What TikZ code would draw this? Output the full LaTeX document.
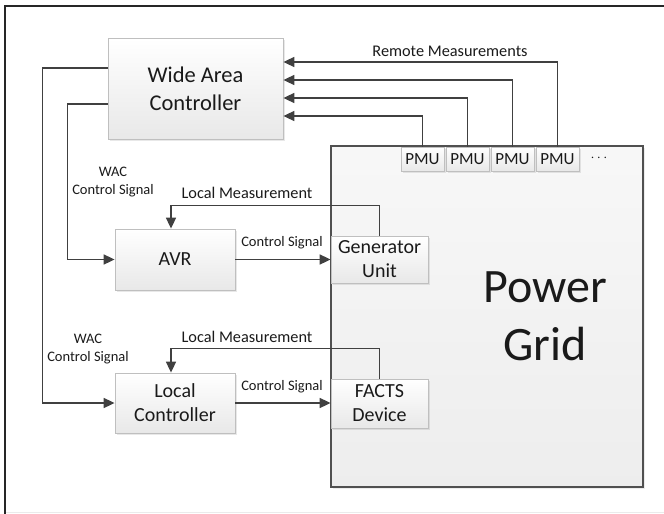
\documentclass[tikz,border=0pt]{standalone}
\usepackage{fontspec}
\setmainfont{Carlito}
\usetikzlibrary{arrows.meta,shadows,positioning}
\definecolor{linec}{HTML}{404040}
\definecolor{boxborder}{HTML}{BFBFBF}
\definecolor{gridborder}{HTML}{505050}
\definecolor{txt}{HTML}{1A1A1A}
\tikzset{
  blk/.style={draw=boxborder, line width=0.8pt, top color=white, bottom color=black!9,
    drop shadow={opacity=0.18, shadow xshift=1.5pt, shadow yshift=-1.5pt},
    align=center, text=txt, inner sep=0pt, font=\fontsize{20}{24}\selectfont},
  pmubox/.style={blk, minimum width=43, minimum height=24, font=\fontsize{17}{20}\selectfont},
  conn/.style={draw=linec, line width=1.7pt},
  arr/.style={conn, -{Triangle[length=11pt,width=10pt]}},
  lbl/.style={text=txt, align=center, inner sep=0pt},
  biglbl/.style={lbl, font=\fontsize{16.3}{19}\selectfont},
  smalllbl/.style={lbl, font=\fontsize{14.5}{18}\selectfont},
}
\begin{document}
\begin{tikzpicture}[x=1pt,y=-1pt]
\useasboundingbox (0,0) rectangle (664,514);
% outer frame
\draw[black!8, line width=0.8pt] (5,512) -- (664,512);
\draw[black!85, line width=2pt] (5,514) -- (5,6) -- (664,6);

% power grid
\node[draw=gridborder, line width=1.6pt, top color=black!3, bottom color=black!7,
  drop shadow={opacity=0.15, shadow xshift=2pt, shadow yshift=-2pt},
  minimum width=312, minimum height=341, inner sep=0pt] (grid) at (487,316.5) {};
\node[lbl, font=\fontsize{48}{58}\selectfont] (gridlbl) at (545,316) {Power\\Grid};

% blocks
\node[blk, minimum width=175, minimum height=101, font=\fontsize{22.5}{28}\selectfont] (wac) at (195.5,88.5) {Wide Area\\Controller};
\node[blk, minimum width=120, minimum height=61] (avr) at (175,259.5) {AVR};
\node[blk, minimum width=120, minimum height=60] (lc) at (175,403) {Local\\Controller};
\node[blk, minimum width=97, minimum height=47] (gen) at (379.5,259.5) {Generator\\Unit};
\node[blk, minimum width=97, minimum height=49] (facts) at (379.5,403.5) {FACTS\\Device};

\node[pmubox] (pmu1) at (422.5,159) {PMU};
\node[pmubox] (pmu2) at (467.5,159) {PMU};
\node[pmubox] (pmu3) at (512.5,159) {PMU};
\node[pmubox] (pmu4) at (557.5,159) {PMU};
\node[lbl, font=\fontsize{15}{18}\selectfont] (dots) at (599,158) {$\cdots$};

% remote measurements
\draw[arr] (pmu1.north) |- ([yshift=-27.5pt]wac.east);
\draw[arr] (pmu2.north) |- ([yshift=-9.5pt]wac.east);
\draw[arr] (pmu3.north) |- ([yshift=8.5pt]wac.east);
\draw[arr] (pmu4.north) |- ([yshift=26.5pt]wac.east);
\node[biglbl] (rmlbl) at (450,51) {Remote Measurements};

% WAC control signals
\draw[arr] ([yshift=20.5pt]wac.west) -- ++(-65,0) |- (lc.west);
\draw[arr] ([yshift=-15.5pt]wac.west) -- ++(-40,0) |- (avr.west);
\node[smalllbl] (wac1lbl) at (113,182) {WAC\\Control Signal};
\node[smalllbl] (wac2lbl) at (88,349) {WAC\\Control Signal};

% AVR loop
\draw[arr] (avr.east) -- (gen.west);
\node[smalllbl] (cs1lbl) at (282,243) {Control Signal};
\draw[arr] (gen.north) -- ++(0,-30) -| ([xshift=-4pt]avr.north);
\node[biglbl] (lm1lbl) at (247,193) {Local Measurement};

% local controller loop
\draw[arr] (lc.east) -- (lc.east -| facts.west);
\node[smalllbl] (cs2lbl) at (282,387) {Control Signal};
\draw[arr] (facts.north) -- ++(0,-30) -| ([xshift=-4pt]lc.north);
\node[biglbl] (lm2lbl) at (247,337) {Local Measurement};
\end{tikzpicture}
\end{document}
